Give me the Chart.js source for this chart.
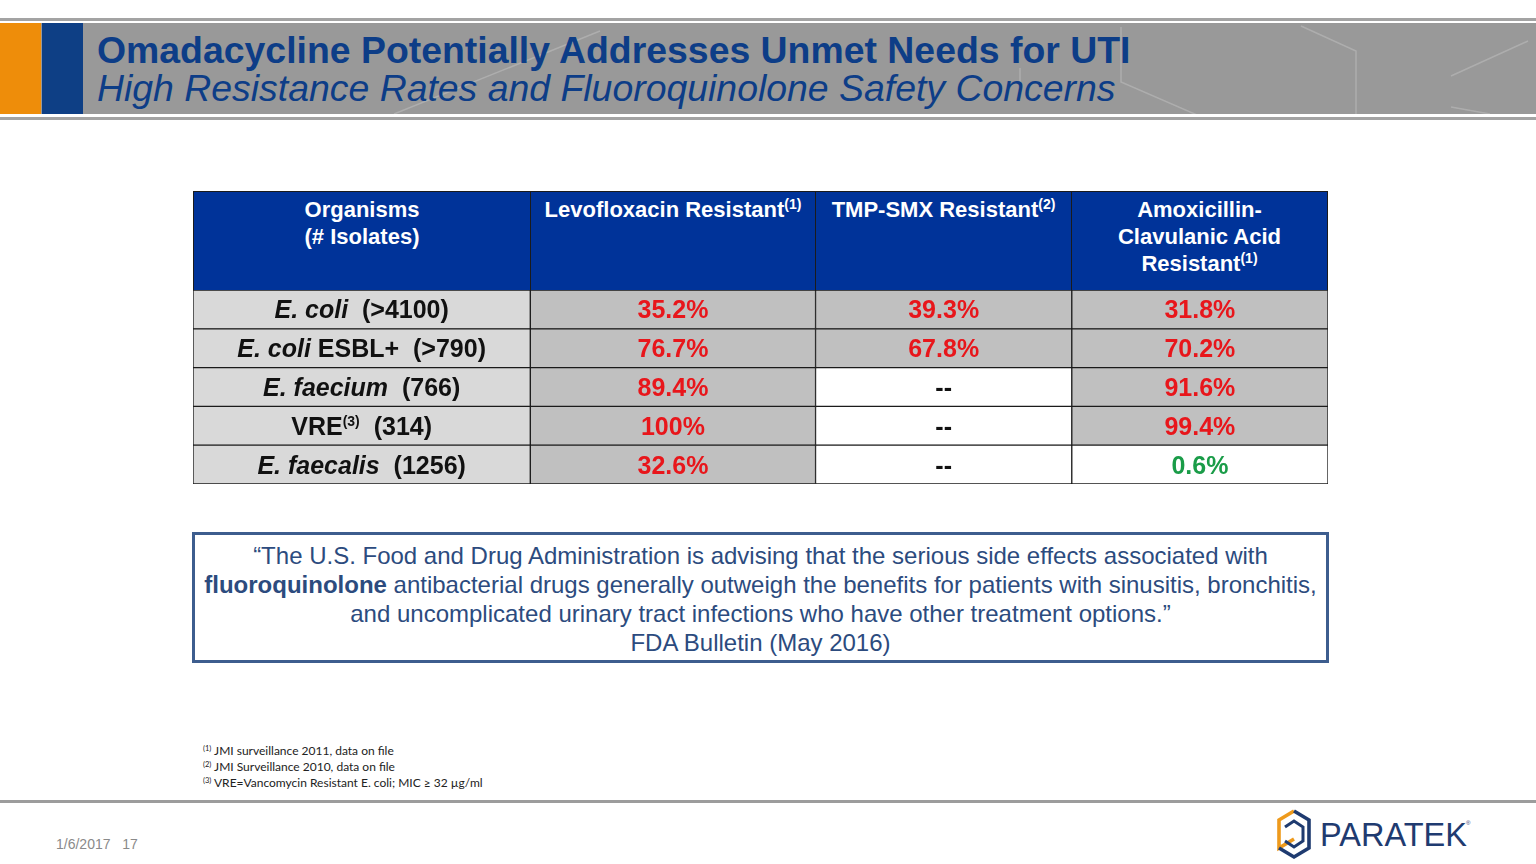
<!DOCTYPE html>
<html>
<head>
<meta charset="utf-8">
<title>Omadacycline UTI resistance</title>
<script src="https://cdn.jsdelivr.net/npm/chart.js@4.4.1/dist/chart.umd.min.js"></script>
<style>
    body { margin: 0; width: 1536px; height: 864px; position: relative; overflow: hidden; background: #fff;
           font-family: "Liberation Sans", Arial, sans-serif; }
    .abs { position: absolute; }
    .rule { position: absolute; left: 0; width: 1536px; background: #a3a3a3; }
    #band { left: 0; top: 23px; width: 1536px; height: 91px; background: #999999; }
    #title { left: 97px; top: 32px; font: bold 37.4px/37px "Liberation Sans", Arial, sans-serif; color: #0d3d87; white-space: nowrap; }
    #subtitle { left: 97px; top: 70px; font: italic 37.4px/37px "Liberation Sans", Arial, sans-serif; color: #0d3d87; white-space: nowrap; }
    #thead { left: 193px; top: 191px; height: 100px; display: flex; }
    #thead div { box-sizing: border-box; height: 100px; background: #003399; border: 1px solid #1b1b1b; margin-right: -1px;
                 color: #fff; font: bold 22px/27px "Liberation Sans", Arial, sans-serif; text-align: center; padding-top: 4px; }
    #thead sup { font-size: 14px; vertical-align: 8px; line-height: 0; }
    #tableWrap { left: 193px; top: 290px; width: 1135px; height: 194px; }
    #quote { left: 192px; top: 532px; width: 1137px; height: 131px; box-sizing: border-box; border: 3px solid #3d5d8e;
             text-align: center; color: #2c4b7e; font: 24px/29px "Liberation Sans", Arial, sans-serif; padding-top: 6px; white-space: nowrap; }
    #quote b { color: #2c4b7e; }
    #notes { left: 203px; top: 743px; font: 12px/16px Lato, "Liberation Sans", sans-serif; color: #222; }
    #notes sup { font-size: 7.5px; vertical-align: 4px; line-height: 0; }
    #date { left: 56px; top: 835px; font: 14px/18px "Liberation Sans", Arial, sans-serif; color: #8a8a8a; white-space: pre; }
</style>
</head>
<body>
<div class="rule" style="top:18px;height:3px;"></div>
<div id="band" class="abs"></div>
<div class="abs" style="left:0;top:23px;width:41px;height:91px;background:#ee8d0a;"></div>
<div class="abs" style="left:42px;top:23px;width:41px;height:91px;background:#0e3f85;"></div>
<svg class="abs" style="left:0;top:23px;" width="1536" height="91">
    <g stroke="#b3b3b3" stroke-width="1.5" fill="none" opacity="0.8">
        <polyline points="394,91 600,8"/>
        <polyline points="1020,45 1020,73"/>
        <polyline points="1121,4 1121,59 1204,95"/>
        <polyline points="1301,3 1356,28 1356,91"/>
        <polyline points="1451,53 1528,18"/>
        <polyline points="1451,84 1490,91"/>
    </g>
</svg>
<div class="rule" style="top:117px;height:3px;"></div>
<div id="title" class="abs">Omadacycline Potentially Addresses Unmet Needs for UTI</div>
<div id="subtitle" class="abs">High Resistance Rates and Fluoroquinolone Safety Concerns</div>

<div id="thead" class="abs"></div>
<div id="tableWrap" class="abs"><canvas id="resistanceTable"></canvas></div>

<div id="quote" class="abs">“The U.S. Food and Drug Administration is advising that the serious side effects associated with<br><b>fluoroquinolone</b> antibacterial drugs generally outweigh the benefits for patients with sinusitis, bronchitis,<br>and uncomplicated urinary tract infections who have other treatment options.”<br>FDA Bulletin (May 2016)</div>

<div id="notes" class="abs">
    <div><sup>(1)</sup> JMI surveillance 2011, data on file</div>
    <div><sup>(2)</sup> JMI Surveillance 2010, data on file</div>
    <div><sup>(3)</sup> VRE=Vancomycin Resistant E. coli; MIC ≥ 32 µg/ml</div>
</div>

<div class="rule" style="top:800px;height:3px;background:#9c9c9c;"></div>
<div id="date" class="abs">1/6/2017   17</div>

<svg class="abs" style="left:1270px;top:805px;" width="220" height="56">
    <g fill="none" stroke-width="3.6" stroke-linejoin="miter">
        <polyline points="24,6 9,15 9,43 24,34" stroke="#ee9a1c"/>
        <polyline points="9,43 24,52 39,43 39,15 24,6" stroke="#1f3b70"/>
        <polyline points="15,22 24,16 33,22 33,36 24,42 15,36" stroke="#1f3b70" stroke-width="3"/>
    </g>
    <text x="50" y="41" font-family="Liberation Sans, Arial, sans-serif" font-size="32.5" fill="#1f3b70">PARATEK</text>
    <text x="196" y="20" font-family="Liberation Sans, Arial, sans-serif" font-size="6" fill="#1f3b70">®</text>
</svg>

<script>
    const organisms = ["E. coli", "E. coli ESBL+", "E. faecium", "VRE", "E. faecalis"];
    const isolates = [">4100", ">790", "766", "314", "1256"];
    const organismNotes = [null, null, null, 3, null];

    const headers = [["Organisms", "(# Isolates)"], ["Levofloxacin Resistant"], ["TMP-SMX Resistant"], ["Amoxicillin-", "Clavulanic Acid", "Resistant"]];
    const headerNotes = [null, 1, 2, 1];

    const levofloxacin = [35.2, 76.7, 89.4, 100, 32.6];
    const tmpSmx = [39.3, 67.8, null, null, null];
    const amoxClav = [31.8, 70.2, 91.6, 99.4, 0.6];

    // layout / style, kept apart from the values
    const colWidths = [337, 285, 256, 256];
    const GRAY = "#c0c0c0", LIGHT = "#d9d9d9", WHITE = "#ffffff";
    const fills = [
        [LIGHT, LIGHT, LIGHT, LIGHT, LIGHT],
        [GRAY, GRAY, GRAY, GRAY, GRAY],
        [GRAY, GRAY, WHITE, WHITE, WHITE],
        [GRAY, GRAY, GRAY, GRAY, WHITE],
    ];
    const greenCells = [[3, 4]];
    const valueCols = [null, levofloxacin, tmpSmx, amoxClav];
    const FONT = '"Liberation Sans", Arial, sans-serif';

    // header row
    const thead = document.getElementById("thead");
    headers.forEach((lines, c) => {
        const cell = document.createElement("div");
        cell.style.width = (colWidths[c] + 1) + "px";
        let html = lines.join("<br>");
        if (headerNotes[c]) html += "<sup>(" + headerNotes[c] + ")</sup>";
        cell.innerHTML = html;
        thead.appendChild(cell);
    });

    function fmt(v) {
        if (v === null) return "--";
        return (Number.isInteger(v) ? v : v.toFixed(1)) + "%";
    }

    function drawOrganism(ctx, r, x, y) {
        const name = organisms[r];
        const segs = [];
        const m = name.match(/^(E\. \S+)(.*)$/);
        if (m) {
            segs.push({ t: m[1], f: "italic bold 25px " + FONT });
            if (m[2]) segs.push({ t: m[2], f: "bold 25px " + FONT });
        } else {
            segs.push({ t: name, f: "bold 25px " + FONT });
        }
        if (organismNotes[r]) segs.push({ t: "(" + organismNotes[r] + ")", f: "bold 14px " + FONT, up: 9 });
        segs.push({ t: "  (" + isolates[r] + ")", f: "bold 25px " + FONT });
        let total = 0;
        segs.forEach(s => { ctx.font = s.f; s.w = ctx.measureText(s.t).width; total += s.w; });
        let cx = x - total / 2;
        ctx.fillStyle = "#111";
        ctx.textAlign = "left";
        segs.forEach(s => {
            ctx.font = s.f;
            ctx.fillText(s.t, cx, y + 9 - (s.up || 0));
            cx += s.w;
        });
    }

    const cellText = {
        id: "cellText",
        afterDatasetsDraw(chart) {
            const ctx = chart.ctx;
            ctx.save();
            ctx.textBaseline = "alphabetic";
            chart.data.datasets.forEach((ds, c) => {
                chart.getDatasetMeta(c).data.forEach((bar, r) => {
                    const p = bar.getCenterPoint();
                    if (c === 0) {
                        drawOrganism(ctx, r, p.x, p.y);
                        return;
                    }
                    const v = valueCols[c][r];
                    const green = greenCells.some(g => g[0] === c && g[1] === r);
                    ctx.font = "bold 25px " + FONT;
                    ctx.textAlign = "center";
                    ctx.fillStyle = v === null ? "#111" : (green ? "#1a9c48" : "#e8161b");
                    ctx.fillText(fmt(v), p.x, p.y + 9);
                });
            });
            ctx.restore();
        }
    };

    new Chart(document.getElementById("resistanceTable"), {
        type: "bar",
        data: {
            labels: organisms,
            datasets: colWidths.map((w, c) => ({
                label: headers[c].join(" "),
                data: organisms.map(() => w),
                backgroundColor: fills[c],
                borderColor: "#1b1b1b",
                borderWidth: 1,
                borderSkipped: false,
                barPercentage: 1,
                categoryPercentage: 1,
            })),
        },
        options: {
            indexAxis: "y",
            responsive: true,
            maintainAspectRatio: false,
            animation: false,
            layout: { padding: 0 },
            scales: {
                x: { stacked: true, display: false, min: 0, max: colWidths.reduce((a, b) => a + b, 0) },
                y: { stacked: true, display: false },
            },
            plugins: { legend: { display: false }, tooltip: { enabled: false } },
        },
        plugins: [cellText],
    });
</script>
</body>
</html>
